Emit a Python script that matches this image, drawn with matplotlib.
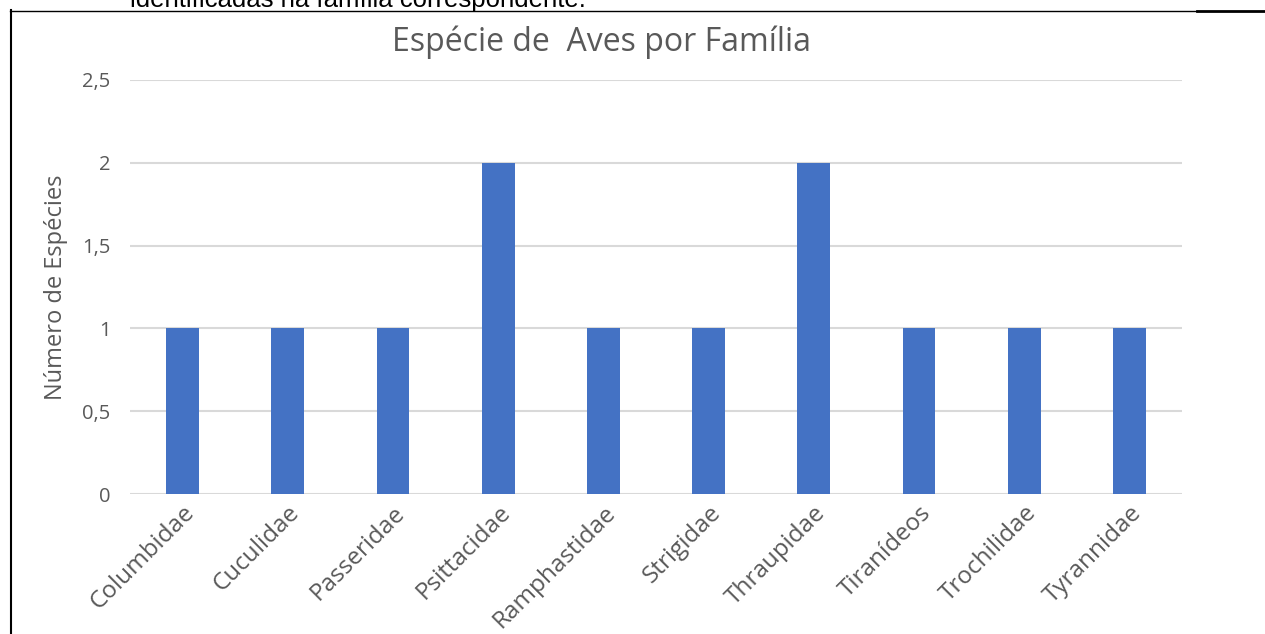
import matplotlib.pyplot as plt
from matplotlib.lines import Line2D

familias = ['Columbidae', 'Cuculidae', 'Passeridae', 'Psittacidae', 'Ramphastidae',
            'Strigidae', 'Thraupidae', 'Tiranídeos', 'Trochilidae', 'Tyrannidae']
especies = [1, 1, 1, 2, 1, 1, 2, 1, 1, 1]
yticks = [0, 0.5, 1, 1.5, 2, 2.5]
ytick_labels = ['0', '0,5', '1', '1,5', '2', '2,5']

W, H = 1265, 634
fig = plt.figure(figsize=(W / 100, H / 100), dpi=100)
fig.patch.set_facecolor('white')

# plot area in pixels (from the picture)
left, right, top, bottom = 130, 1182, 80, 494
ax = fig.add_axes([left / W, 1 - bottom / H, (right - left) / W, (bottom - top) / H])

cinza = '#595959'
font = 'Open Sans'

x = range(len(familias))
ax.bar(x, especies, width=0.31, color='#4472C4', zorder=3)
ax.set_xlim(-0.5, len(familias) - 0.5)
ax.set_ylim(0, 2.5)
ax.set_yticks(yticks)
ax.set_yticklabels(ytick_labels, fontsize=14.5, color=cinza, family=font)
ax.set_xticks(list(x))
ax.set_xticklabels(familias, rotation=45, ha='right', va='top', rotation_mode='anchor',
                   fontsize=17.5, color=cinza, family=font)
ax.tick_params(axis='both', length=0)
ax.tick_params(axis='y', pad=14)
ax.tick_params(axis='x', pad=5)
ax.grid(axis='y', color='#D9D9D9', linewidth=1.5, zorder=0)
for s in ax.spines.values():
    s.set_visible(False)
ax.set_ylabel('Número de Espécies', fontsize=17, color=cinza, family=font, labelpad=10)

fig.text(602 / W, 1 - 42 / H, 'Espécie de  Aves por Família', ha='center', va='center',
         fontsize=23, color=cinza, family=font)

# document frame around the chart
fig.add_artist(Line2D([10 / W, 1197 / W], [1 - 10.5 / H, 1 - 10.5 / H], color='black', lw=1))
fig.add_artist(Line2D([1197 / W, 1], [1 - 11 / H, 1 - 11 / H], color='black', lw=2))
fig.add_artist(Line2D([10.5 / W, 10.5 / W], [0, 1 - 10 / H], color='black', lw=1.5))

# cut-off line of document text at the top
fig.text(130 / W, 1 - 7 / H, 'identificadas na família correspondente.', ha='left',
         va='baseline', fontsize=18.5, color='black', family='Liberation Sans')

fig.savefig('out.png', dpi=100)
